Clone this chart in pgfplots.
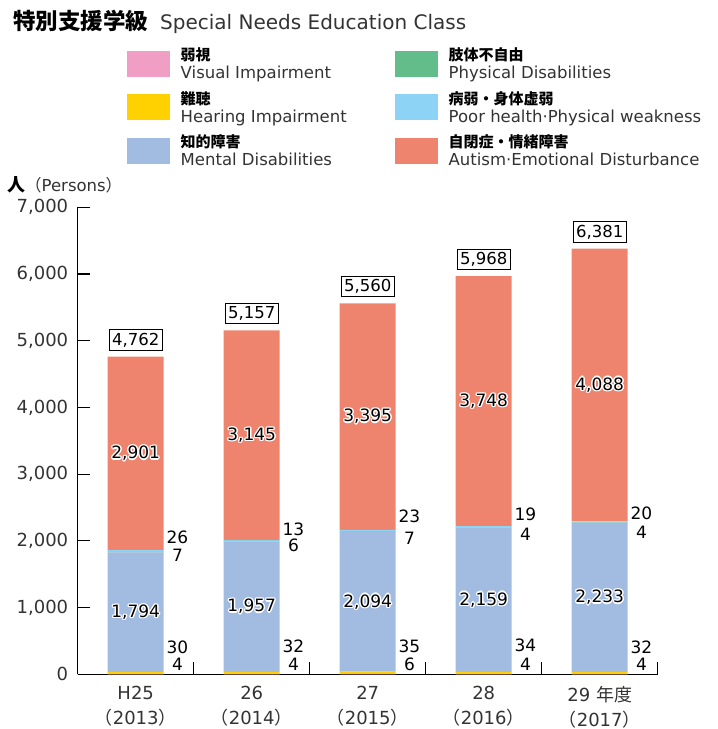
\documentclass[border=0pt]{standalone}
\usepackage{fontspec}
\setmainfont{DejaVu Sans}
\newfontfamily\jp{Noto Sans CJK JP}
\usepackage{pgfplots}
\pgfplotsset{compat=1.18}
\definecolor{cVis}{HTML}{F09EC3}
\definecolor{cHear}{HTML}{FFD100}
\definecolor{cMent}{HTML}{A2BBE0}
\definecolor{cPhys}{HTML}{63BD8A}
\definecolor{cPoor}{HTML}{8DD3F5}
\definecolor{cAut}{HTML}{EE846D}
\definecolor{txt}{HTML}{333333}
\newcommand{\fsz}[1]{\fontsize{#1}{#1}\selectfont}
\newcommand{\hpx}[2]{\rlap{\kern#1\raise#2\copy1}}
\newcommand{\halo}[1]{\begingroup\setbox0=\hbox{#1}\setbox1=\hbox{\textcolor{white}{#1}}%
\hpx{1.4pt}{0pt}\hpx{-1.4pt}{0pt}\hpx{0pt}{1.4pt}\hpx{0pt}{-1.4pt}%
\hpx{1pt}{1pt}\hpx{-1pt}{1pt}\hpx{1pt}{-1pt}\hpx{-1pt}{-1pt}\box0\endgroup}
\tikzset{
  inl/.style={font=\fsz{17}, inner sep=0pt},
  tot/.style={draw=black, line width=1pt, fill=white, inner xsep=3pt, inner ysep=3pt, anchor=south, yshift=6pt, font=\fsz{16.5}},
}
\pgfplotsset{
  midlabels/.style={
    point meta=rawy,
    nodes near coords={\halo{\pgfmathprintnumber{\pgfplotspointmeta}}},
    every node near coord/.style={anchor=center, inner sep=0pt, font=\fsz{17}, text=black},
  },
}
\begin{document}
\begin{tikzpicture}[x=1pt,y=1pt]
\useasboundingbox (0,0) rectangle (718,729);
\node[anchor=west, inner sep=0pt] at (13,707) {{\jp\bfseries\fsz{22.5}特別支援学級}\hspace{12pt}{\color{txt}\fsz{20}Special Needs Education Class}};
\node[anchor=west, inner sep=0pt] at (7,544) {{\jp\bfseries\fsz{18}人}{\color{txt}\fsz{16.5}{\jp （}Persons{\jp ）}}};
\begin{axis}[
  at={(67,82)}, anchor=south west, scale only axis,
  width=580pt, height=467pt,
  ybar stacked, bar width=0.483,
  xmin=-0.5, xmax=4.5, ymin=0, ymax=7000,
  axis x line=bottom, axis y line=left,
  axis line style={-, line width=1.2pt},
  tick align=inside, major tick length=12.5pt,
  tick style={black, line width=1.2pt},
  ytick={0,1000,...,7000},
  scaled y ticks=false,
  /pgf/number format/1000 sep={,},
  /pgf/number format/assume math mode=true,
  yticklabel style={font=\fsz{18}, text=txt, xshift=-6pt},
  xtick={0.5,1.5,2.5,3.5,4.5}, xticklabels={},
  extra x ticks={0,1,2,3,4},
  extra x tick labels={{H25\\{\jp （}2013{\jp ）}},{26\\{\jp （}2014{\jp ）}},{27\\{\jp （}2015{\jp ）}},{28\\{\jp （}2016{\jp ）}},{29 {\jp 年度}\\{\jp （}2017{\jp ）}}},
  extra x tick style={major tick length=0pt, tick label style={font=\fontsize{18}{25}\selectfont, text=txt, align=center, yshift=-8pt}},
  clip=false,
  legend columns=2,
  legend cell align=left,
  legend style={draw=none, fill=none, at={(0.0845,1.3424)}, anchor=north west, inner sep=0pt, outer sep=0pt,
    nodes={align=left, inner sep=0pt, text=txt, font=\fontsize{16.5}{18}\selectfont},
    row sep=11.5pt,
    /tikz/every odd column/.append style={column sep=11pt},
    /tikz/every even column/.append style={column sep=48pt}},
  legend image code/.code={\fill[#1] (0pt,-13pt) rectangle (43pt,13pt);},
]
\addlegendimage{fill=cVis, draw=none}
\addlegendentry{{\jp\bfseries\fontsize{15}{18}\selectfont\color{black}弱視}\\Visual Impairment}
\addlegendimage{fill=cPhys, draw=none}
\addlegendentry{{\jp\bfseries\fontsize{15}{18}\selectfont\color{black}肢体不自由}\\Physical Disabilities}
\addlegendimage{fill=cHear, draw=none}
\addlegendentry{{\jp\bfseries\fontsize{15}{18}\selectfont\color{black}難聴}\\Hearing Impairment}
\addlegendimage{fill=cPoor, draw=none}
\addlegendentry{{\jp\bfseries\fontsize{15}{18}\selectfont\color{black}病弱・身体虚弱}\\Poor health·Physical weakness}
\addlegendimage{fill=cMent, draw=none}
\addlegendentry{{\jp\bfseries\fontsize{15}{18}\selectfont\color{black}知的障害}\\Mental Disabilities}
\addlegendimage{fill=cAut, draw=none}
\addlegendentry{{\jp\bfseries\fontsize{15}{18}\selectfont\color{black}自閉症・情緒障害}\\Autism·Emotional Disturbance}
\addplot[fill=cVis, draw=none, forget plot] coordinates {(0,4) (1,4) (2,6) (3,4) (4,4)};
\addplot[fill=cHear, draw=none, forget plot] coordinates {(0,30) (1,32) (2,35) (3,34) (4,32)};
\addplot[fill=cMent, draw=none, forget plot, midlabels] coordinates {(0,1794) (1,1957) (2,2094) (3,2159) (4,2233)};
\addplot[fill=cPhys, draw=none, forget plot] coordinates {(0,7) (1,6) (2,7) (3,4) (4,4)};
\addplot[fill=cPoor, draw=none, forget plot] coordinates {(0,26) (1,13) (2,23) (3,19) (4,20)};
\addplot[fill=cAut, draw=none, forget plot, midlabels] coordinates {(0,2901) (1,3145) (2,3395) (3,3748) (4,4088)};
\node[inl] at (axis cs:0.36,2053) {26};
\node[inl] at (axis cs:0.36,1784) {7};
\node[inl] at (axis cs:1.36,2173) {13};
\node[inl] at (axis cs:1.36,1934) {6};
\node[inl] at (axis cs:2.36,2368) {23};
\node[inl] at (axis cs:2.36,2039) {7};
\node[inl] at (axis cs:3.36,2398) {19};
\node[inl] at (axis cs:3.36,2098) {4};
\node[inl] at (axis cs:4.36,2413) {20};
\node[inl] at (axis cs:4.36,2128) {4};
\node[inl] at (axis cs:0.36,400) {30};
\node[inl] at (axis cs:0.36,150) {4};
\node[inl] at (axis cs:1.36,420) {32};
\node[inl] at (axis cs:1.36,150) {4};
\node[inl] at (axis cs:2.36,415) {35};
\node[inl] at (axis cs:2.36,150) {6};
\node[inl] at (axis cs:3.36,430) {34};
\node[inl] at (axis cs:3.36,150) {4};
\node[inl] at (axis cs:4.36,400) {32};
\node[inl] at (axis cs:4.36,150) {4};
\node[tot] at (axis cs:0,4762) {4,762};
\node[tot] at (axis cs:1,5157) {5,157};
\node[tot] at (axis cs:2,5560) {5,560};
\node[tot] at (axis cs:3,5968) {5,968};
\node[tot] at (axis cs:4,6381) {6,381};
\end{axis}
\end{tikzpicture}
\end{document}
